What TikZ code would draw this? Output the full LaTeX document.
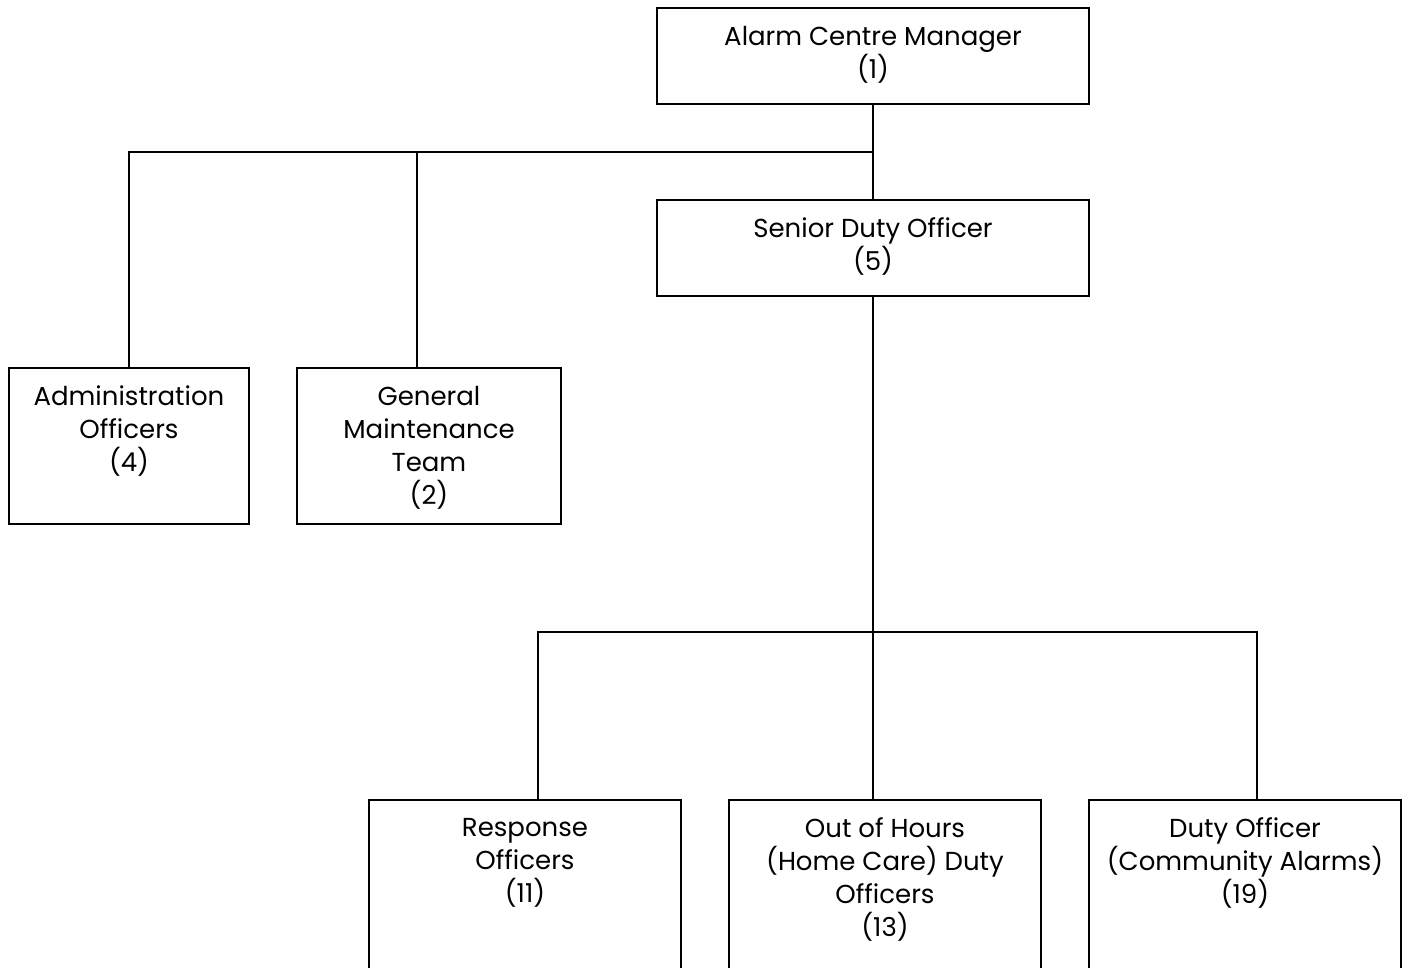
\documentclass[tikz,border=0pt]{standalone}
\usepackage{fontspec}
\setmainfont{Poppins}
\usetikzlibrary{positioning}
\tikzset{
  post/.style = {draw, line width=1.5pt, inner sep=0pt, minimum width=#1},
  post/.default = 324pt,
  label txt/.style = {align=center, inner sep=0pt, font=\fontsize{19.5pt}{24.75pt}\selectfont},
  link/.style = {line width=1.5pt}
}

\begin{document}
\begin{tikzpicture}[x=0.75pt, y=-0.75pt]
  \clip (0,0) rectangle (1409,967);

  % boxes
  \node[post, minimum height=72pt] (mgr) at (873,56) {};
  \node[post, minimum height=72pt] (sdo) at (873,248) {};
  \node[post=180pt, minimum height=117pt] (adm) at (129,446) {};
  \node[post=198pt, minimum height=117pt] (gmt) at (429,446) {};
  \node[post=234pt, minimum height=187.5pt] (rsp) at (525,925) {};
  \node[post=234pt, minimum height=187.5pt] (ooh) at (885,925) {};
  \node[post=234pt, minimum height=187.5pt] (dty) at (1245,925) {};

  % texts
  \node[label txt, below=14pt of mgr.north] (mgr-txt) {Alarm Centre Manager\\(1)};
  \node[label txt, below=14pt of sdo.north] (sdo-txt) {Senior Duty Officer\\(5)};
  \node[label txt, below=14pt of adm.north] (adm-txt) {Administration\\Officers\\(4)};
  \node[label txt, below=14pt of gmt.north] (gmt-txt) {General\\Maintenance\\Team\\(2)};
  \node[label txt, below=14pt of rsp.north] (rsp-txt) {Response\\Officers\\(11)};
  \node[label txt, below=14pt of ooh.north] (ooh-txt) {Out of Hours\\(Home Care) Duty\\Officers\\(13)};
  \node[label txt, below=14pt of dty.north] (dty-txt) {Duty Officer\\(Community Alarms)\\(19)};

  % connectors
  \coordinate (bus1) at (873,152);
  \coordinate (bus2) at (873,632);
  \coordinate (gmt-in) at (417,368);
  \coordinate (rsp-in) at (538,800);
  \coordinate (dty-in) at (1257,800);

  \draw[link] (mgr) -- (sdo);
  \draw[link] (bus1) -| (adm);
  \draw[link] (gmt-in |- bus1) -- (gmt-in);
  \draw[link] (sdo) -- (bus2) -- (ooh.north -| bus2);
  \draw[link] (rsp-in) |- (bus2) -| (dty-in);
\end{tikzpicture}
\end{document}
